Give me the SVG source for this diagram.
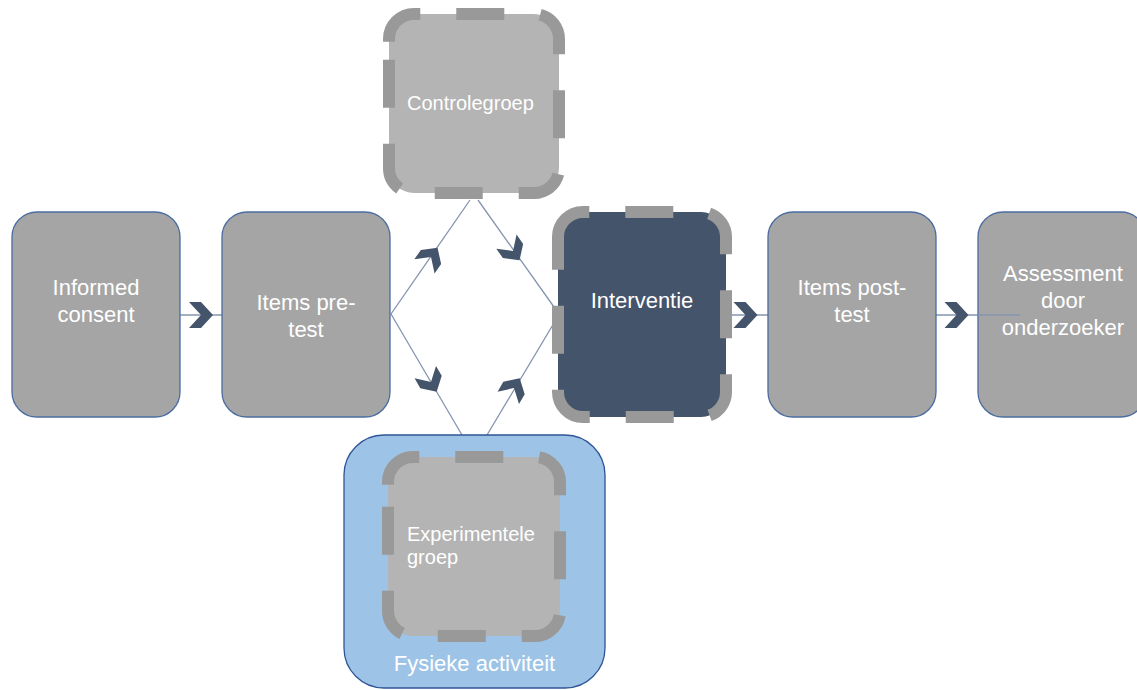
<svg xmlns="http://www.w3.org/2000/svg" width="1137" height="690" viewBox="0 0 1137 690">
  <style>
    .box { fill: #A5A5A5; stroke: #4A6CA0; stroke-width: 1.3; }
    .dashed { stroke: #999999; stroke-width: 12; stroke-dasharray: 48 36; }
    .lbl { font-family: "Liberation Sans", Arial, sans-serif; fill: #FFFFFF; font-size: 22px; text-anchor: middle; }
    .lbl-s { font-family: "Liberation Sans", Arial, sans-serif; fill: #FFFFFF; font-size: 20px; }
    .conn { stroke: #8494AE; stroke-width: 1.3; fill: none; }
    .chev { fill: #44546A; }
  </style>
  <defs>
    <path id="chev" d="M-12,-13 L0,-13 L12,0 L0,13 L-12,13 L0,0 Z"/>
  </defs>

  <rect width="1137" height="690" fill="#FFFFFF"/>

  <!-- connectors -->
  <g id="connectors">
    <line class="conn" x1="180" y1="315" x2="222" y2="315"/>
    <line class="conn" x1="391" y1="314" x2="470" y2="200"/>
    <line class="conn" x1="478" y1="200" x2="554" y2="307"/>
    <line class="conn" x1="391" y1="314" x2="462" y2="435"/>
    <line class="conn" x1="487" y1="435" x2="554" y2="323"/>
    <line class="conn" x1="726" y1="315" x2="768" y2="315"/>
    <line class="conn" x1="936" y1="315" x2="1020" y2="315"/>
    <use href="#chev" class="chev" transform="translate(201,315)"/>
    <use href="#chev" class="chev" transform="translate(745.5,315)"/>
    <use href="#chev" class="chev" transform="translate(956.5,315)"/>
    <use href="#chev" class="chev" transform="translate(431,257) rotate(-55) scale(0.95)"/>
    <use href="#chev" class="chev" transform="translate(513,251) rotate(55) scale(0.95)"/>
    <use href="#chev" class="chev" transform="translate(431,382) rotate(60) scale(0.95)"/>
    <use href="#chev" class="chev" transform="translate(514,388) rotate(-60) scale(0.95)"/>
  </g>

  <g id="informed-consent">
    <rect class="box" x="12" y="212" width="168" height="205" rx="25"/>
    <text class="lbl" x="96" y="295">Informed</text>
    <text class="lbl" x="96" y="322">consent</text>
  </g>

  <g id="items-pre-test">
    <rect class="box" x="222" y="212" width="168" height="205" rx="25"/>
    <text class="lbl" x="306" y="310">Items pre-</text>
    <text class="lbl" x="306" y="337">test</text>
  </g>

  <g id="controlegroep">
    <path class="dashed" fill="#B4B4B4" d="M389,41.7 V39 A25,25 0 0 1 414,14 H534 A25,25 0 0 1 559,39 V168 A25,25 0 0 1 534,193 H414 A25,25 0 0 1 389,168 Z"/>
    <text class="lbl-s" x="407" y="110">Controlegroep</text>
  </g>

  <g id="fysieke-activiteit">
    <rect x="344" y="435" width="261" height="253" rx="40" fill="#9DC3E6" stroke="#2F5597" stroke-width="1.3"/>
    <text class="lbl" x="474.5" y="671">Fysieke activiteit</text>
  </g>

  <g id="experimentele-groep">
    <path class="dashed" fill="#B4B4B4" d="M388,484.7 V482 A25,25 0 0 1 413,457 H535 A25,25 0 0 1 560,482 V611 A25,25 0 0 1 535,636 H413 A25,25 0 0 1 388,611 Z"/>
    <text class="lbl-s" x="407" y="541">Experimentele</text>
    <text class="lbl-s" x="407" y="564">groep</text>
  </g>

  <g id="interventie">
    <path class="dashed" fill="#44546A" d="M558,239.7 V237 A25,25 0 0 1 583,212 H701 A25,25 0 0 1 726,237 V392 A25,25 0 0 1 701,417 H583 A25,25 0 0 1 558,392 Z"/>
    <text class="lbl" x="642" y="308">Interventie</text>
  </g>

  <g id="items-post-test">
    <rect class="box" x="768" y="212" width="168" height="205" rx="25"/>
    <text class="lbl" x="852" y="295">Items post-</text>
    <text class="lbl" x="852" y="322">test</text>
  </g>

  <g id="assessment">
    <rect class="box" x="978" y="212" width="168" height="205" rx="25"/>
    <line class="conn" x1="978" y1="315" x2="1020" y2="315"/>
    <text class="lbl" x="1063" y="281">Assessment</text>
    <text class="lbl" x="1063" y="308">door</text>
    <text class="lbl" x="1063" y="335">onderzoeker</text>
  </g>
</svg>
